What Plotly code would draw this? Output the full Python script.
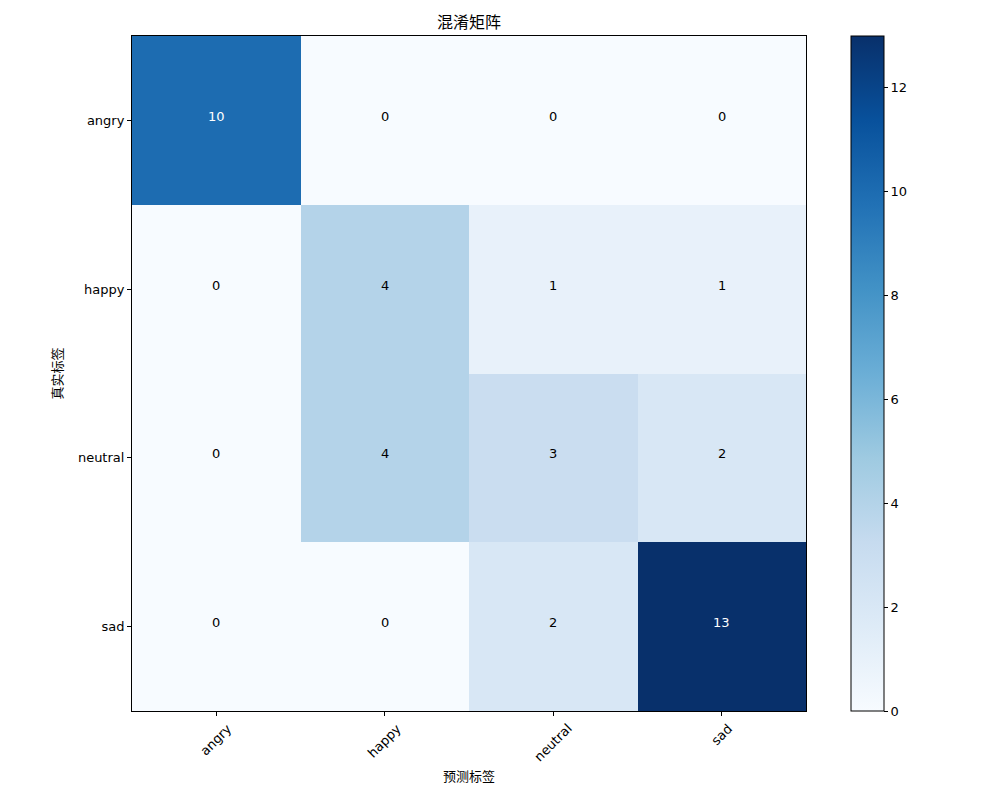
import plotly.graph_objects as go

labels = ["angry", "happy", "neutral", "sad"]
matrix = [
    [10, 0, 0, 0],
    [0, 4, 1, 1],
    [0, 4, 3, 2],
    [0, 0, 2, 13],
]
title_text = "混淆矩阵"
x_title = "预测标签"
y_title = "真实标签"
cbar_ticks = [0, 2, 4, 6, 8, 10, 12]

blues = ["#f7fbff", "#deebf7", "#c6dbef", "#9ecae1", "#6baed6",
         "#4292c6", "#2171b5", "#08519c", "#08306b"]
colorscale = [[i / (len(blues) - 1), c] for i, c in enumerate(blues)]

FONT = "DejaVu Sans, Noto Sans CJK SC, sans-serif"
zmax = max(max(r) for r in matrix)
thresh = zmax / 2

L, R, T, B = 124, 202, 28, 97
PW = 1000 - L - R

fig = go.Figure(go.Heatmap(
    z=matrix, x=labels, y=labels,
    colorscale=colorscale, zmin=0, zmax=zmax,
    colorbar=dict(
        x=(843 - L) / PW, xanchor="left", xref="paper", xpad=0, ypad=0,
        y=0.5, yanchor="middle", len=1, lenmode="fraction",
        thickness=33, outlinewidth=1, outlinecolor="black",
        tickvals=cbar_ticks, ticks="outside", ticklen=4, tickcolor="black",
        tickfont=dict(family=FONT, size=13, color="black"),
    ),
    hoverinfo="skip",
))

annotations = []
for i, row in enumerate(matrix):
    for j, v in enumerate(row):
        annotations.append(dict(
            x=labels[j], y=labels[i], text=str(v), showarrow=False, yshift=4,
            font=dict(family=FONT, size=13, color="white" if v > thresh else "black"),
        ))

# rotated x tick labels, centred under each tick (matplotlib style)
for lab in labels:
    annotations.append(dict(
        x=lab, xref="x", y=0, yref="paper", text=lab, showarrow=False,
        textangle=-45, xanchor="center", yanchor="top", yshift=-7,
        font=dict(family=FONT, size=13, color="black"),
    ))

fig.update_layout(
    width=1000, height=800,
    margin=dict(l=L, r=R, t=T, b=B),
    paper_bgcolor="white", plot_bgcolor="white",
    font=dict(family=FONT, size=13, color="black"),
    title=dict(text=title_text, x=(L + L + PW) / 2 / 1000, xanchor="center",
               y=1 - 14 / 800, yanchor="middle",
               font=dict(family=FONT, size=16, color="black")),
    annotations=annotations,
    xaxis=dict(
        range=[-0.5, 3.5], showline=True, linecolor="black", linewidth=1, mirror=True,
        ticks="outside", ticklen=4, tickcolor="black", showgrid=False,
        showticklabels=False,
        title=dict(text=x_title, font=dict(family=FONT, size=13), standoff=56),
    ),
    yaxis=dict(
        range=[3.5, -0.5], showline=True, linecolor="black", linewidth=1, mirror=True,
        ticks="outside", ticklen=4, tickcolor="black", showgrid=False,
        title=dict(text=y_title, font=dict(family=FONT, size=13), standoff=12),
        tickfont=dict(family=FONT, size=13),
    ),
)

fig.write_html("out.html")
